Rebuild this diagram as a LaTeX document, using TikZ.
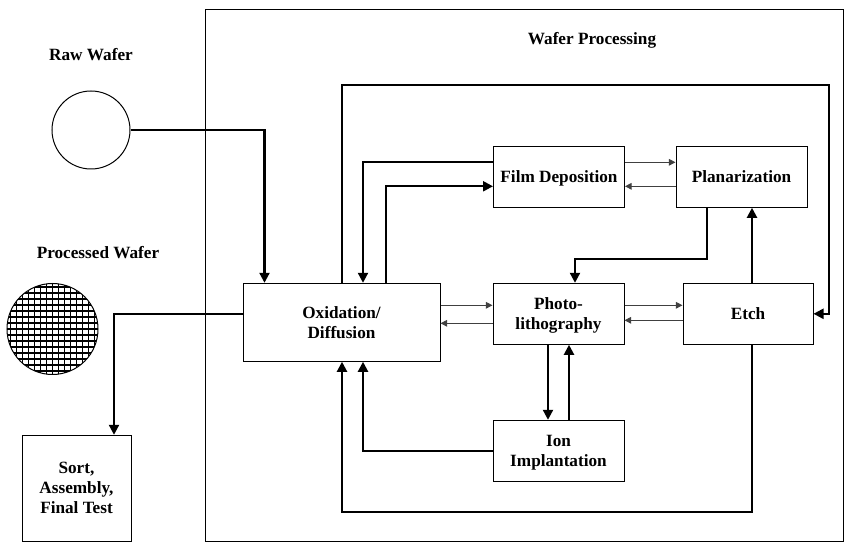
\documentclass[tikz,border=0pt]{standalone}
\usepackage{fontspec}
\setmainfont{Liberation Serif}
\usetikzlibrary{arrows.meta, calc}
\tikzstyle{box} = [rectangle, draw=black, line width=0.75pt, inner sep=0pt, align=center, text depth=0pt]
\tikzstyle{label} = [align=center]
\tikzstyle{arrow} = [line width=1.6pt, -{Triangle[length=7.5pt,width=7.5pt]}]
\tikzstyle{thinarrow} = [line width=0.75pt, black!75, -{Triangle[length=5pt,width=5pt]}]

\begin{document}
\begin{tikzpicture}[x=0.75pt, y=-0.75pt, font=\fontsize{12.9}{15}\selectfont\bfseries]
  \useasboundingbox (0,0) rectangle (854,552);

  \node (frame) [box, minimum width=478.5pt, minimum height=398.25pt] at (524,275.5) {};
  \node (title) [label] at (592,40) {Wafer Processing};

  \node (rawlabel) [label] at (91,55) {Raw Wafer};
  \node (raw) [circle, draw=black, line width=0.75pt, minimum size=58.5pt, inner sep=0pt] at (91,130) {};
  \node (proclabel) [label] at (98,253) {Processed Wafer};
  \node (proc) [circle, draw=black, line width=0.75pt, minimum size=68.25pt, inner sep=0pt,
    path picture={
      \foreach \i in {-8,...,8} {
        \draw [line width=1pt] ($(path picture bounding box.center)+(\i*6,-50)$) -- ++(0,100);
        \draw [line width=1pt] ($(path picture bounding box.center)+(-50,\i*6)$) -- ++(100,0);
      }
    }] at (52.5,329) {};

  \node (film) [box, text height=9pt, minimum width=98.25pt, minimum height=45.75pt] at (559,176.8) {Film Deposition};
  \node (plan) [box, text height=9pt, minimum width=98.25pt, minimum height=45.75pt] at (741.5,176.8) {Planarization};
  \node (oxid) [box, text height=24pt, minimum width=147.75pt, minimum height=58.5pt] at (341.5,322.3) {Oxidation/\\Diffusion};
  \node (photo) [box, text height=23pt, minimum width=98.25pt, minimum height=45.75pt] at (558.5,313.8) {Photo-\\lithography};
  \node (etch) [box, text height=8.2pt, minimum width=97.5pt, minimum height=45.75pt] at (748,313.8) {Etch};
  \node (ion) [box, text height=24pt, minimum width=98.25pt, minimum height=45.75pt] at (558.5,450.8) {Ion\\Implantation};
  \node (sort) [box, text height=37.5pt, minimum width=81.75pt, minimum height=79.5pt] at (76.5,488.3) {Sort,\\Assembly,\\Final Test};

  % raw wafer in, finished wafer out
  \draw [arrow] (raw.east) -| ($(oxid.north west)+(22,0)$);
  \draw [arrow] ($(oxid.west)+(0,-8)$) -| (sort.north -| 114,0);

  % long loops
  \draw [arrow] ($(oxid.north)+(0.5,0)$) |- (829,85) |- (etch.east);
  \draw [arrow] ($(etch.south)+(4,0)$) |- (342,512) -- ($(oxid.south)+(0.5,0)$);

  % oxidation and film deposition
  \draw [arrow] ($(film.west)+(0,-14.5)$) -| ($(oxid.north)+(21.5,0)$);
  \draw [arrow] ($(oxid.north)+(44.5,0)$) |- ($(film.west)+(0,9.5)$);

  \draw [thinarrow] ($(film.east)+(0,-14.5)$) -- ($(plan.west)+(0,-14.5)$);
  \draw [thinarrow] ($(plan.west)+(0,9.5)$) -- ($(film.east)+(0,9.5)$);

  \draw [arrow] ($(plan.south)+(-34.5,0)$) |- (575,259) -- ($(photo.north)+(16.5,0)$);
  \draw [arrow] ($(etch.north)+(4,0)$) -- ($(plan.south)+(10.5,0)$);

  \draw [thinarrow] ($(oxid.east)+(0,-17)$) -- ($(photo.west)+(0,-8.5)$);
  \draw [thinarrow] ($(photo.west)+(0,9.5)$) -- ($(oxid.east)+(0,1)$);
  \draw [thinarrow] ($(photo.east)+(0,-8.5)$) -- ($(etch.west)+(0,-8.5)$);
  \draw [thinarrow] ($(etch.west)+(0,6.5)$) -- ($(photo.east)+(0,6.5)$);

  \draw [arrow] ($(photo.south)+(-10.5,0)$) -- ($(ion.north)+(-10.5,0)$);
  \draw [arrow] ($(ion.north)+(10.5,0)$) -- ($(photo.south)+(10.5,0)$);
  \draw [arrow] (ion.west) -| ($(oxid.south)+(21.5,0)$);
\end{tikzpicture}
\end{document}
